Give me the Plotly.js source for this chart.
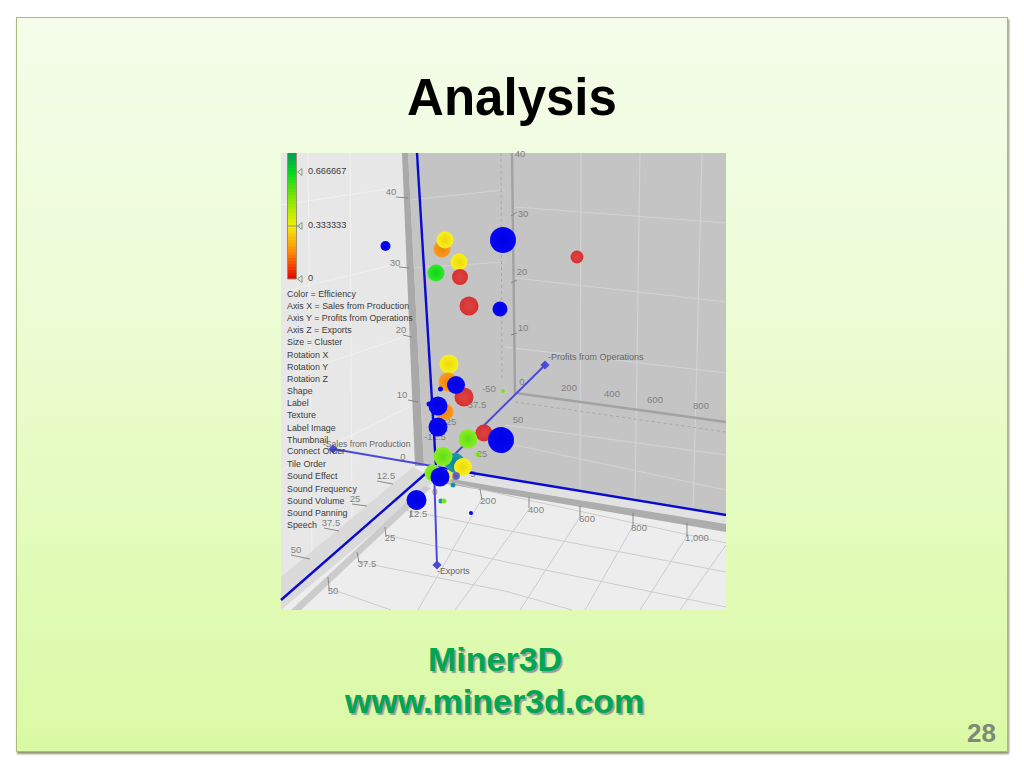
<!DOCTYPE html>
<html>
<head>
<meta charset="utf-8">
<script src="https://cdn.plot.ly/plotly-3.0.0.min.js"></script>
<style>
html,body{margin:0;padding:0;background:#fff;width:1024px;height:768px;overflow:hidden}
#slide{position:absolute;left:16px;top:17px;width:990px;height:733px;border:1px solid #aabb80;
background:linear-gradient(180deg,#f4fdea 0%,#eefcd8 35%,#e2fbb8 75%,#daf9a4 100%);box-shadow:1px 2px 2px #8c9470}
#chart{position:absolute;left:0;top:0;width:1024px;height:768px}
</style>
</head>
<body>
<div id="slide"></div>
<div id="chart"></div>
<script>
// Every position below in its own picture space (x right, y down).
const panelX=[281,726,726,281], panelY=[153,153,610,610];
const leftWallX=[281,403,416,281], leftWallY=[153,153,467,578];
const backWallX=[408,726,726,436,424], backWallY=[153,153,516,467,465];
const wallBandX=[402,408,424,415], wallBandY=[153,153,466,466];
const frontStripX=[424,436,726,726,505,440], frontStripY=[465,466,516,525,489,478];
const frontBandX=[440,505,726,726,505,441], frontBandY=[477,488,524,532,494,483];
const sideStripX=[281,413,436,281], sideStripY=[577,467,480,610];
const sideBandX=[291,424,431,301], sideBandY=[610,486,488,610];

const backGridX=[515,726,null,515,726,null,505,726,null,581,580,null,640,635,null,702,693,null,408,505,null,412,505,null,505,726,null,515,726];
const backGridY=[207,223,null,278,302,null,347,373,null,153,490,null,153,500,null,153,515,null,200,190,null,268,262,null,425,455,null,445,490];
const leftGridX=[281,400,null,281,404,null,281,410,null,281,413,null,350,352,null,308,312];
const leftGridY=[205,187,null,292,262,null,378,335,null,470,405,null,153,530,null,153,560];
const floorGridX=[440,505,726,null,405,505,726,null,386,506,726,null,358,505,572,null,328,391,null,481,418,null,530,455,null,580,520,null,633,585,null,687,640,null,726,680];
const floorGridY=[480,495,543,null,510,530,572,null,535,562,607,null,562,591,610,null,588,610,null,500,610,null,508,610,null,517,610,null,526,610,null,536,610,null,545,610];
const tickX=[396,408,null,399,409,null,403,412,null,408,418,null,377,393,null,352,367,null,324,339,null,291,310,null,411,410,null,385,386,null,357,359,null,328,329,null,480,482,null,529,529,null,580,580,null,633,633,null,687,687,null,517,511,null,517,511,null,517,511];
const tickY=[197,198,null,267,268,null,335,337,null,400,402,null,481,484,null,504,506,null,528,531,null,555,559,null,510,518,null,527,537,null,552,562,null,577,588,null,489,500,null,497,508,null,506,517,null,513,526,null,523,536,null,212,216,null,280,283,null,333,335];
const innerFrameX=[512,515,726], innerFrameY=[153,393,422];
const dottedX=[515,726,null,501,502], dottedY=[402,432,null,153,380];

const darkAxisX=[417,436,null,436,726,null,281,432], darkAxisY=[153,467,null,467,515,null,600,468];
const exportsAxisX=[434,437], exportsAxisY=[468,565];
const salesAxisX=[432,333], salesAxisY=[466,449];
const profitsAxisX=[448,545], profitsAxisY=[461,365];

const axisEndsX=[437,333,545], axisEndsY=[565,449,365];

const axisNames=['-Exports','-Sales from Production','-Profits from Operations'];
const axisNamesX=[437,323,548], axisNamesY=[572,445,358];
const tickLabels=['40','30','20','10','0','40','30','20','10','-50','0','200','400','600','800','50','37.5','25','-12.5','25','5','0','200','400','600','800','1,000','12.5','25','37.5','50','12.5','25','37.5','50'];
const tickLabelsX=[391,395,401,402,403,520,523,522,523,489,522,569,612,655,701,518,477,451,435,482,473,435,488,536,587,639,697,418,390,367,333,386,355,331,296];
const tickLabelsY=[193,264,331,396,458,155,215,273,329,390,383,389,395,401,407,421,406,423,438,455,475,493,502,511,520,529,539,515,539,565,592,477,500,524,551];

const sphereX=[385.5,442,445,459,460,436,503,469,500,577,449,503,448,440.5,464,456,429,445,438,438,484,468,501,478,455,443,463,456,433,446,440,453,416.5,441,444,471];
const sphereY=[246,249,240,262,277,273,240,306,309,257,364,391,382,389,397,385,404,412,406,427,433,439,440,454.5,463,456.5,467,476,473,476,477,485,500,501,501,513];
const sphereSize=[10,17,17,17,16,17,26,19,15,13,19,4,19,5,19,18,5,17,19,19,17,19,26,5,20,19,18,8,17,13,19,5,20,5,5,4];
const sphereClass=['blue','orange','yellow','yellow','red','green','blue','red','blue','red','yellow','lime','orange','blue','red','blue','blue','orange','blue','blue','red','lime','blue','lime','teal','lime','yellow','violet','lime','yellow','blue','teal','blue','teal','lime','blue'];
const palette={blue:['#0606f4','#0000e4'],orange:['#fb9a1c','#ec8410'],yellow:['#f8f020','#eed808'],red:['#d83030','#dc4444'],green:['#2cec2c','#14d014'],lime:['#88ee20','#60dc18'],teal:['#1c9cb0','#128098'],violet:['#7070c8','#5050a8']};

const scaleValues=[.776,.757,.738,.720,.701,.682,.664,.645,.626,.608,.589,.570,.551,.533,.514,.495,.477,.458,.439,.421,.402,.383,.364,.346,.327,.308,.290,.271,.252,.234,.215,.196,.178,.159,.140,.121,.103,.084,.065,.047,.028,.009];
const scaleColumnsX=[290,294];
const scaleStops=[[0,'#e80000'],[0.212,'#ff8a00'],[0.424,'#f0f000'],[0.64,'#80e800'],[0.85,'#00d820'],[1,'#0a9a58']];
const scaleFrameX=[287.5,287.5,296.5,296.5,null,287,300];
const scaleFrameY=[153,279,279,153,null,226,226];
const scaleLabels=['0.666667','0.333333','0'];
const scaleLabelsY=[172,226,279];
const scaleMarkX=[300.5,300.5,300.5];
const scaleLabelsX=[308,308,308];

const legendLines=['Color = Efficiency','Axis X = Sales from Production','Axis Y = Profits from Operations','Axis Z = Exports','Size = Cluster','Rotation X','Rotation Y','Rotation Z','Shape','Label','Texture','Label Image','Thumbnail','Connect Order','Tile Order','Sound Effect','Sound Frequency','Sound Volume','Sound Panning','Speech'];
const legendLinesY=[295,307,319,331,343,355.5,367.5,379.5,392,404,416,428.5,440.5,452,464.5,476.5,489.5,501.5,513.5,525.5];

const slideTitle='Analysis';
const creditLines=['Miner3D','www.miner3d.com'];
const pageNumber='28';

const FONT='"Liberation Sans", Arial, sans-serif';
const poly=(x,y,c)=>({type:'scatter',mode:'lines',x,y,fill:'toself',fillcolor:c,line:{width:0,color:c},hoverinfo:'skip'});
const lines=(x,y,c,w,dash)=>({type:'scatter',mode:'lines',x,y,connectgaps:false,line:{width:w,color:c,dash:dash||'solid'},hoverinfo:'skip'});
const texts=(x,y,t,pos,size,color)=>({type:'scatter',mode:'text',x,y,text:t,textposition:pos,textfont:{family:FONT,size,color},hoverinfo:'skip'});
const onTop=t=>Object.assign(t,{xaxis:'x2',yaxis:'y2'});

const traces=[
 poly(panelX,panelY,'#ededed'),
 poly(leftWallX,leftWallY,'#e7e7e7'),
 lines(leftGridX,leftGridY,'#f1f1f1',1),
 poly(backWallX,backWallY,'#c4c4c4'),
 lines(backGridX,backGridY,'#d2d2d2',1.2),
 lines(dottedX,dottedY,'#a8a8a8',1,'dot'),
 lines(innerFrameX,innerFrameY,'#a2a2a2',2.4),
 poly(frontStripX,frontStripY,'#e2e2e2'),
 poly(frontBandX,frontBandY,'#adadad'),
 poly(sideStripX,sideStripY,'#dadada'),
 poly(sideBandX,sideBandY,'#cbcbcb'),
 lines(floorGridX,floorGridY,'#cdcdcd',1),
 poly(wallBandX,wallBandY,'#a9a9a9'),
 lines(tickX,tickY,'#808080',0.9),
 texts(tickLabelsX,tickLabelsY,tickLabels,'middle center',9.5,'#808080'),
 texts([axisNamesX[0]],[axisNamesY[0]],[axisNames[0]],'middle right',8.8,'#666666'),
 texts([axisNamesX[1]],[axisNamesY[1]],[axisNames[1]],'middle right',8.6,'#666666'),
 texts([axisNamesX[2]],[axisNamesY[2]],[axisNames[2]],'middle right',9,'#666666'),
 lines(exportsAxisX,exportsAxisY,'#4a4ad8',2),
 lines(salesAxisX,salesAxisY,'#4a4ad8',2),
 lines(profitsAxisX,profitsAxisY,'#4a4ad8',2),
 {type:'scatter',mode:'markers',x:axisEndsX,y:axisEndsY,marker:{symbol:'diamond',size:7,color:'#4a4ad8'},hoverinfo:'skip'},
 lines(darkAxisX,darkAxisY,'#0a0ad0',2.4),
 {type:'scatter',mode:'markers',x:sphereX,y:sphereY,hoverinfo:'skip',
  marker:{size:sphereSize,sizemode:'diameter',opacity:1,line:{width:0},
   color:sphereClass.map(c=>palette[c][0]),
   gradient:{type:'radial',color:sphereClass.map(c=>palette[c][1])}}},
 onTop({type:'heatmap',x:scaleColumnsX,y0:154.5,dy:3,z:scaleValues.map(v=>[v,v]),zmin:0,zmax:0.785,
  colorscale:scaleStops,showscale:false,hoverinfo:'skip'}),
 onTop(lines(scaleFrameX,scaleFrameY,'#9a8f78',1)),
 onTop({type:'scatter',mode:'markers',x:scaleMarkX,y:scaleLabelsY,marker:{symbol:'triangle-left-open',size:6,color:'#7f9f7f',line:{width:1,color:'#7f9f7f'}},hoverinfo:'skip'}),
 texts(scaleLabelsX,scaleLabelsY,scaleLabels,'middle right',9.2,'#3c3c3c'),
 texts(legendLinesY.map(()=>287),legendLinesY,legendLines,'middle right',8.85,'#3c3c3c'),
];

const shadow='2px 2px 1px #9a9a9a';
const layout={
 width:1024,height:768,margin:{l:0,r:0,t:0,b:0,pad:0},showlegend:false,
 paper_bgcolor:'rgba(0,0,0,0)',plot_bgcolor:'rgba(0,0,0,0)',hovermode:false,
 title:{text:slideTitle,x:512/1024,xanchor:'center',y:1-97/768,yanchor:'middle',automargin:false,
  font:{family:FONT,size:51,weight:700,color:'#000000'}},
 xaxis:{range:[0,1024],visible:false,fixedrange:true},
 yaxis:{range:[768,0],visible:false,fixedrange:true},
 xaxis2:{range:[0,1024],visible:false,fixedrange:true,overlaying:'x',anchor:'y2'},
 yaxis2:{range:[768,0],visible:false,fixedrange:true,overlaying:'y',anchor:'x2'},
 annotations:[
  {xref:'x',yref:'y',x:495,y:659,text:creditLines[0],showarrow:false,xanchor:'center',yanchor:'middle',font:{family:FONT,size:34,weight:700,color:'#00a651',shadow}},
  {xref:'x',yref:'y',x:494,y:701,text:creditLines[1],showarrow:false,xanchor:'center',yanchor:'middle',font:{family:FONT,size:34,weight:700,color:'#00a651',shadow}},
  {xref:'x',yref:'y',x:981,y:733,text:pageNumber,showarrow:false,xanchor:'center',yanchor:'middle',font:{family:FONT,size:26,weight:700,color:'#7f897a'}}
 ]
};
Plotly.newPlot('chart',traces,layout,{staticPlot:true,displayModeBar:false});
</script>
</body>
</html>
